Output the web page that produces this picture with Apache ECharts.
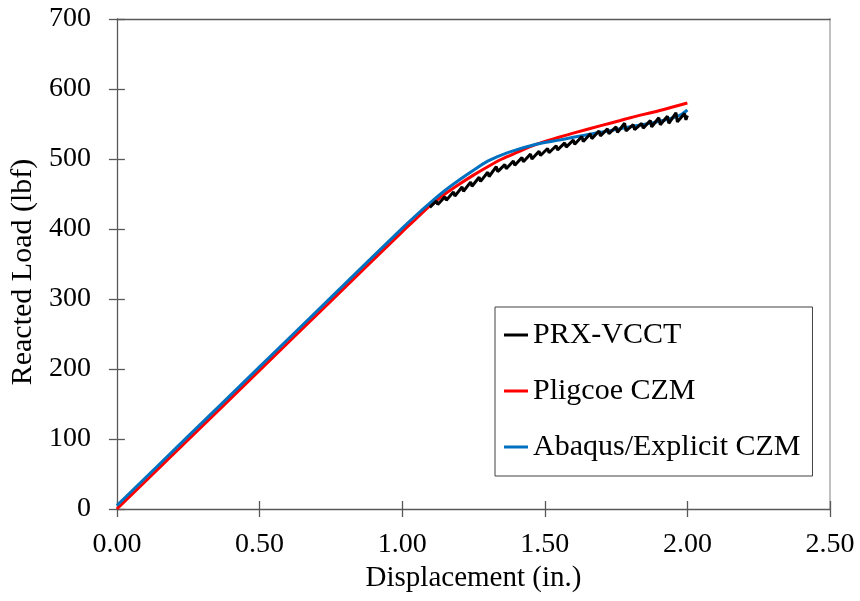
<!DOCTYPE html>
<html>
<head>
<meta charset="utf-8">
<script src="https://cdn.jsdelivr.net/npm/echarts@6/dist/echarts.min.js"></script>
<style>
html,body{margin:0;padding:0;background:#fff;}
#chart{width:860px;height:601px;}
</style>
</head>
<body>
<div id="chart"></div>
<script>
// Series names
const seriesNames = ["PRX-VCCT", "Pligcoe CZM", "Abaqus/Explicit CZM"];

// PRX-VCCT (displacement in., load lbf) - sawtooth after crack onset
const prxVcct = [
  [1.097,431],[1.12,440],[1.125,435],[1.15,446],[1.155,441],[1.18,453],[1.185,447],
  [1.21,460],[1.215,454],[1.24,467],[1.245,461],[1.27,474],[1.275,468],[1.30,481],
  [1.305,475],[1.33,489],[1.335,482],[1.36,492],[1.365,486],[1.39,497],[1.395,491],
  [1.42,502],[1.425,496],[1.45,507],[1.455,500],[1.48,511],[1.485,505],[1.51,515],
  [1.515,509],[1.54,519],[1.545,513],[1.57,523],[1.575,517],[1.60,527],[1.605,521],
  [1.63,532],[1.635,525],[1.66,536],[1.665,529],[1.69,540],[1.695,533],[1.72,543],
  [1.725,536],[1.75,546],[1.755,538],[1.78,551],[1.785,540],[1.81,549],[1.815,542],
  [1.84,551],[1.845,544],[1.87,555],[1.875,546],[1.90,559],[1.905,549],[1.93,561],
  [1.935,551],[1.96,566],[1.965,553],[1.99,565],[1.995,556],[2.0,562]
];

// Pligcoe CZM
const pligcoeCzm = [
  [0,0],[0.25,99],[0.5,198],[0.75,297],[1.0,396],[1.05,415],[1.1,434],[1.15,450],
  [1.2,464],[1.25,477],[1.3,489],[1.35,500],[1.4,509],[1.47,521],[1.55,531],
  [1.6,537],[1.7,548],[1.765,555],[1.8,559],[1.9,569],[2.0,580]
];

// Abaqus/Explicit CZM
const abaqusCzm = [
  [0,5],[0.25,104],[0.5,203],[0.75,302],[1.0,401],[1.05,420],[1.1,438],[1.15,455],
  [1.2,470],[1.25,484],[1.3,497],[1.35,506],[1.4,513],[1.47,521],[1.55,527],
  [1.6,531],[1.68,537],[1.75,542],[1.8,546],[1.88,552],[1.95,559],[1.98,564],[2.0,570]
];

// Axis ranges / ticks
const xMin = 0, xMax = 2.5, xStep = 0.5;
const yMin = 0, yMax = 700, yStep = 100;

const FONT = '"Liberation Serif", "Times New Roman", serif';
const AXIS_COLOR = '#595959';

const chart = echarts.init(document.getElementById('chart'), null, {renderer: 'canvas'});

const baseX = {type:'value', min:xMin, max:xMax, interval:xStep, splitLine:{show:false}};
const baseY = {type:'value', min:yMin, max:yMax, interval:yStep, splitLine:{show:false}};

chart.setOption({
  animation: false,
  backgroundColor: '#fff',
  grid: {left:115, right:30, top:19, bottom:92, containLabel:false},
  legend: {
    data: seriesNames.map(n => ({name:n, icon:'rect'})),
    orient: 'vertical',
    left: 495, top: 307,
    itemWidth: 24, itemHeight: 3, itemGap: 26,
    padding: [13,12,14,9],
    backgroundColor: '#fff',
    borderColor: '#404040', borderWidth: 1,
    textStyle: {fontFamily: FONT, fontSize: 30, color:'#000', lineHeight: 30}
  },
  xAxis: [
    Object.assign({}, baseX, {
      position:'bottom',
      name:'Displacement (in.)', nameLocation:'middle', nameGap:53,
      nameTextStyle:{fontFamily:FONT, fontSize:29, color:'#000'},
      axisLine:{show:true, onZero:false, lineStyle:{color:AXIS_COLOR, width:1.3}},
      axisTick:{show:true, inside:false, length:8, lineStyle:{color:AXIS_COLOR, width:1.3}},
      axisLabel:{show:true, margin:22, fontFamily:FONT, fontSize:28, color:'#000',
        formatter: v => v.toFixed(2)}
    }),
    Object.assign({}, baseX, {
      position:'bottom',
      axisLine:{show:false},
      axisTick:{show:true, inside:true, length:8, lineStyle:{color:AXIS_COLOR, width:1.3}},
      axisLabel:{show:false}
    }),
    Object.assign({}, baseX, {
      position:'top',
      axisLine:{show:true, onZero:false, lineStyle:{color:AXIS_COLOR, width:1.3}},
      axisTick:{show:false},
      axisLabel:{show:false}
    })
  ],
  yAxis: [
    Object.assign({}, baseY, {
      position:'left',
      name:'Reacted Load (lbf)', nameLocation:'middle', nameGap:78, nameRotate:90,
      nameTextStyle:{fontFamily:FONT, fontSize:30, color:'#000', padding:[0,16,0,0]},
      axisLine:{show:true, onZero:false, lineStyle:{color:AXIS_COLOR, width:1.3}},
      axisTick:{show:true, inside:false, length:8, lineStyle:{color:AXIS_COLOR, width:1.3}},
      axisLabel:{show:true, margin:26, fontFamily:FONT, fontSize:28, color:'#000'}
    }),
    Object.assign({}, baseY, {
      position:'left',
      axisLine:{show:false},
      axisTick:{show:true, inside:true, length:8, lineStyle:{color:AXIS_COLOR, width:1.3}},
      axisLabel:{show:false}
    }),
    Object.assign({}, baseY, {
      position:'right',
      axisLine:{show:true, onZero:false, lineStyle:{color:'#bfbfbf', width:2}},
      axisTick:{show:false},
      axisLabel:{show:false}
    })
  ],
  series: [
    {name:seriesNames[1], type:'line', data:pligcoeCzm, xAxisIndex:0, yAxisIndex:0, smooth:0.3,
     showSymbol:false, symbol:'none', color:'#ff0000', lineStyle:{color:'#ff0000', width:3}, z:2},
    {name:seriesNames[2], type:'line', data:abaqusCzm, xAxisIndex:0, yAxisIndex:0, smooth:0.3,
     showSymbol:false, symbol:'none', color:'#0070c0', lineStyle:{color:'#0070c0', width:3}, z:3},
    {name:seriesNames[0], type:'line', data:prxVcct, xAxisIndex:0, yAxisIndex:0,
     showSymbol:false, symbol:'none', color:'#000000', lineStyle:{color:'#000000', width:3}, z:4}
  ]
});
</script>
</body>
</html>
